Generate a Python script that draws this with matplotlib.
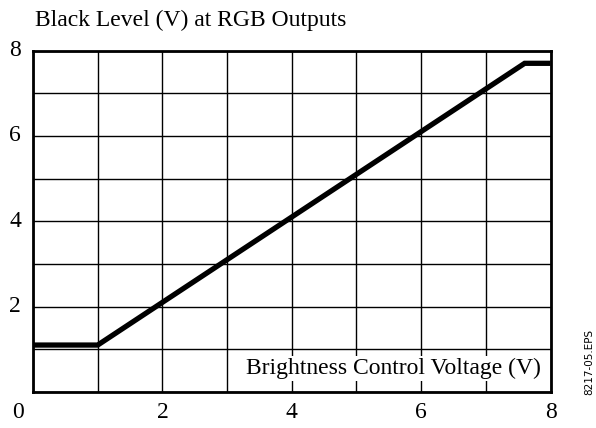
import matplotlib
matplotlib.use("Agg")
import matplotlib.pyplot as plt
from matplotlib.transforms import offset_copy

# Data
x_vals = [0, 1, 7.6, 8]
y_vals = [1.1, 1.1, 7.7, 7.7]
x_ticks = [0, 2, 4, 6, 8]
y_ticks = [2, 4, 6, 8]
title = "Black Level (V) at RGB Outputs"
xlabel = "Brightness Control Voltage (V)"
tag = "8217-05.EPS"

plt.rcParams['font.family'] = ['Liberation Serif', 'DejaVu Serif']

fig = plt.figure(figsize=(5.96, 4.28), dpi=100)
ax = fig.add_axes([0.0554, 0.0841, 0.8683, 0.7979])
ax.set_xlim(0, 8)
ax.set_ylim(0, 8)

# grid
ax.set_xticks(range(0, 9))
ax.set_yticks(range(0, 9))
ax.grid(True, color='black', linewidth=1.0)
ax.tick_params(length=0, labelbottom=False, labelleft=False)
for s in ax.spines.values():
    s.set_linewidth(2)
    s.set_zorder(5)

ax.plot(x_vals, y_vals, color='black', linewidth=3.8, solid_capstyle='butt',
        solid_joinstyle='miter', zorder=4, clip_on=False)

# tick labels
for xv in x_ticks:
    dx = -15 if xv == 0 else 0
    tr = offset_copy(ax.transData, fig=fig, x=dx, y=-20, units='dots')
    ax.text(xv, 0, str(xv), transform=tr, ha='center', va='center', fontsize=17)
for yv in y_ticks:
    tr = offset_copy(ax.transData, fig=fig, x=-18, y=0, units='dots')
    ax.text(0, yv, str(yv), transform=tr, ha='center', va='center', fontsize=17)

ax.text(7.85, 0.55, xlabel, ha='right', va='center', fontsize=17,
        bbox=dict(facecolor='white', edgecolor='none', pad=1.5), zorder=3)

fig.text(35 / 596, 1 - 20 / 428, title, ha='left', va='center', fontsize=17)
fig.text(589 / 596, 1 - 362 / 428, tag, ha='center', va='center', rotation=90,
         fontsize=7.5, family=['DejaVu Sans'])

fig.savefig('out.png', dpi=100)
